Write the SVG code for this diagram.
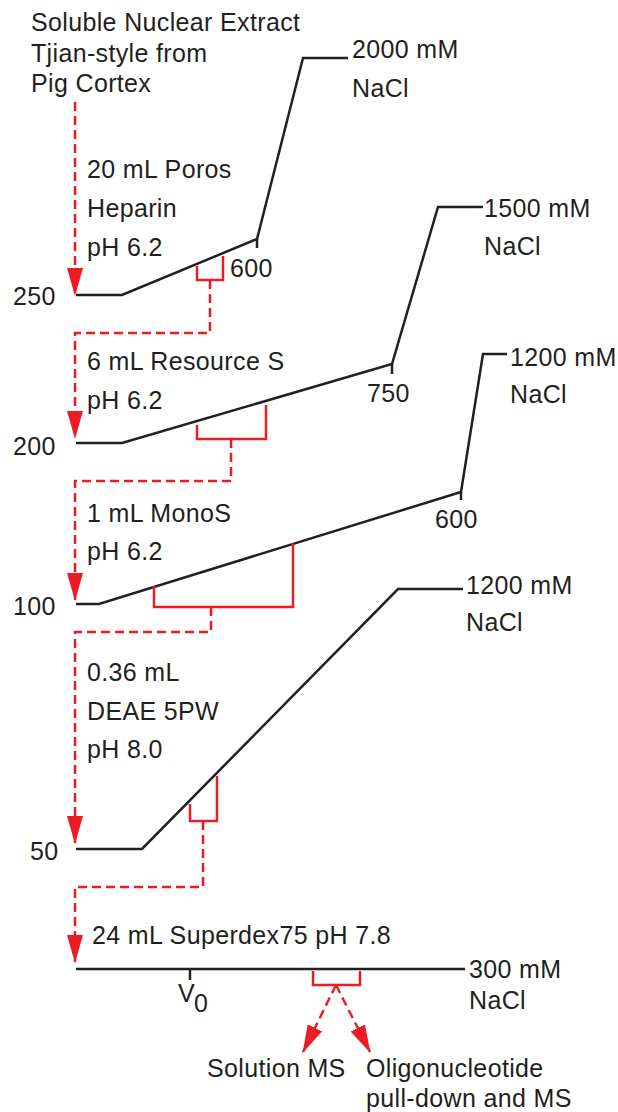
<svg xmlns="http://www.w3.org/2000/svg" width="618" height="1112" viewBox="0 0 618 1112">
<style>
text{font-family:"Liberation Sans",Arial,Helvetica,sans-serif;font-size:25px;letter-spacing:0.35px;fill:#231f20}
.prof{fill:none;stroke:#231f20;stroke-width:2.5;stroke-linejoin:miter}
.br{fill:none;stroke:#ed1c24;stroke-width:2.5}
.dash{fill:none;stroke:#ed1c24;stroke-width:2.5;stroke-dasharray:9 5}
</style>
<defs>
<marker id="ah" markerUnits="userSpaceOnUse" markerWidth="28" markerHeight="16" viewBox="0 0 28 16" refX="27" refY="8" orient="auto">
<path d="M0,0 L28,8 L0,16 Z" fill="#ed1c24"/>
</marker>
</defs>
<rect width="618" height="1112" fill="#fff"/>

<g id="source">
<text x="31" y="31">Soluble Nuclear Extract</text>
<text x="31" y="62">Tjian-style from</text>
<text x="31" y="92">Pig Cortex</text>
</g>

<g id="step1-heparin">
<text x="87" y="178">20 mL Poros</text>
<text x="87" y="217">Heparin</text>
<text x="87" y="256">pH 6.2</text>
<text x="13" y="305">250</text>
<path class="prof" d="M76,295 H122 L257,239 L303,58 H348"/>
<path class="prof" d="M257,239 V248"/>
<text x="230" y="277">600</text>
<text x="352" y="58">2000 mM</text>
<text x="352" y="97">NaCl</text>
<path class="br" d="M197,266 V280 H223 V256"/>
</g>

<g id="step2-resourceS">
<text x="87" y="370">6 mL Resource S</text>
<text x="87" y="409">pH 6.2</text>
<text x="13" y="455">200</text>
<path class="prof" d="M76,443 H122 L392,364 L438,207 H483"/>
<path class="prof" d="M392,364 V374"/>
<text x="367" y="402">750</text>
<text x="484" y="217">1500 mM</text>
<text x="484" y="255">NaCl</text>
<path class="br" d="M197,425 V439 H266 V405"/>
</g>

<g id="step3-monoS">
<text x="87" y="522">1 mL MonoS</text>
<text x="87" y="560">pH 6.2</text>
<text x="13" y="615">100</text>
<path class="prof" d="M76,604 H99 L461,492 L483,354 H507"/>
<path class="prof" d="M461,492 V500"/>
<text x="435" y="528">600</text>
<text x="510" y="366">1200 mM</text>
<text x="510" y="403">NaCl</text>
<path class="br" d="M154,586 V607 H293 V543"/>
</g>

<g id="step4-deae">
<text x="87" y="681">0.36 mL</text>
<text x="87" y="720">DEAE 5PW</text>
<text x="87" y="758">pH 8.0</text>
<text x="30" y="860">50</text>
<path class="prof" d="M76,849 H142 L398,589 H463"/>
<text x="466" y="594">1200 mM</text>
<text x="466" y="631">NaCl</text>
<path class="br" d="M190,804 V821 H217 V776"/>
</g>

<g id="step5-superdex">
<text x="92" y="944">24 mL Superdex75 pH 7.8</text>
<path class="prof" d="M76,969 H465"/>
<path class="prof" d="M190,969 V980"/>
<text x="178" y="1002">V<tspan dy="10" dx="-1">0</tspan></text>
<text x="469" y="978">300 mM</text>
<text x="469" y="1009">NaCl</text>
<path class="br" d="M313,971 V985 H360 V971"/>
</g>

<g id="out-solution">
<text x="207" y="1077">Solution MS</text>
</g>
<g id="out-oligo">
<text x="366" y="1077">Oligonucleotide</text>
<text x="366" y="1107">pull-down and MS</text>
</g>

<g id="connectors">
<path class="dash" d="M75,102 V295" marker-end="url(#ah)"/>
<path class="dash" d="M210,280 V333 H75 V438" marker-end="url(#ah)"/>
<path class="dash" d="M231,439 V481 H75 V600" marker-end="url(#ah)"/>
<path class="dash" d="M211,607 V632 H75 V843" marker-end="url(#ah)"/>
<path class="dash" d="M203,821 V887 H75 V962" marker-end="url(#ah)"/>
<path class="dash" d="M336,985 L303,1052" marker-end="url(#ah)"/>
<path class="dash" d="M336,985 L370,1052" marker-end="url(#ah)"/>
</g>
</svg>
